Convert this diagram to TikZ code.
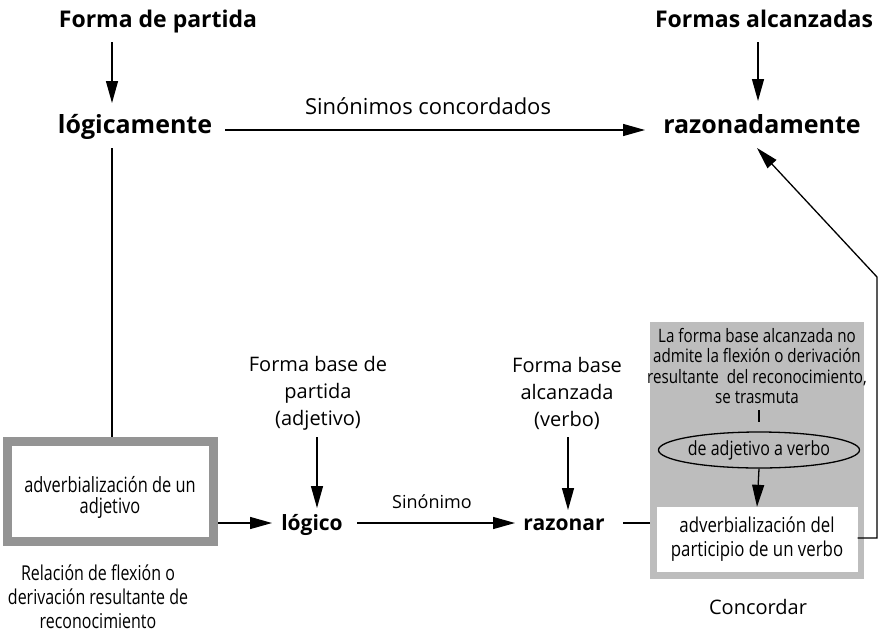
\documentclass[tikz,border=0pt]{standalone}
\usepackage{fontspec}
\setmainfont{Open Sans}
\newfontfamily\condfont[FakeStretch=0.78]{Open Sans}
\newfontfamily\graycondfont[FakeStretch=0.82]{Open Sans}
\usetikzlibrary{arrows.meta,shapes.geometric}
\definecolor{dither}{gray}{0.74}
\definecolor{frame}{gray}{0.58}
\begin{document}
\begin{tikzpicture}[x=1pt,y=-1pt,
  arr/.style={line width=1.3pt,-{Triangle[length=22pt,width=12pt]}},
  plain/.style={line width=1.3pt},
  bigbold/.style={font=\fontsize{25}{30}\selectfont\bfseries,inner sep=0pt,anchor=base},
  titlebold/.style={font=\fontsize{23}{28}\selectfont\bfseries,inner sep=0pt,anchor=base},
  midbold/.style={font=\fontsize{21}{24}\selectfont\bfseries,inner sep=0pt,anchor=base},
  label/.style={font=\fontsize{20}{27}\selectfont,inner sep=0pt,align=center},
  cond/.style={font=\condfont\fontsize{21}{20}\selectfont,inner sep=0pt,align=center},
  graytxt/.style={font=\graycondfont\fontsize{18.5}{20.5}\selectfont,inner sep=0pt,align=center}
]
\useasboundingbox (0,0) rectangle (880,635);

% top row
\node[titlebold] (fp) at (158,27) {Forma de partida};
\node[titlebold] (fa) at (764,27) {Formas alcanzadas};
\node[bigbold] (log) at (135,133) {lógicamente};
\node[bigbold] (raz) at (762,133) {razonadamente};
\node[font=\fontsize{22}{26}\selectfont,inner sep=0pt,anchor=base] (sc) at (428,114) {Sinónimos concordados};

\coordinate (fpS) at (112,42);  \coordinate (logN) at (112,103);
\coordinate (faS) at (758,42);  \coordinate (razN) at (758,101);
\coordinate (logE) at (225,130); \coordinate (razW) at (645,130);
\draw[arr] (fpS) -- (logN);
\draw[arr] (faS) -- (razN);
\draw[arr] (logE) -- (razW);

% left box
\fill[frame] (3,437) rectangle (218,546);
\fill[white] (12,446) rectangle (209,537);
\node[cond,font=\condfont\fontsize{21}{21}\selectfont] (adj) at (110,497) {adverbialización de un\\adjetivo};
\coordinate (logS) at (112,148); \coordinate (boxN) at (112,437);
\draw[plain] (logS) -- (boxN);

\node[cond,font=\condfont\fontsize{20.5}{24}\selectfont] (rel) at (98,597) {Relación de flexión o\\derivación resultante de\\reconocimiento};

% middle
\node[label] (fbp) at (318,393) {Forma base de\\partida\\(adjetivo)};
\node[label] (fba) at (567,393) {Forma base\\alcanzada\\(verbo)};
\node[midbold] (lgc) at (312,530) {lógico};
\node[midbold] (rzn) at (564,530) {razonar};
\node[font=\fontsize{18}{22}\selectfont,inner sep=0pt,anchor=base] (sn) at (432,508) {Sinónimo};

\coordinate (fbpS) at (317,437); \coordinate (lgcN) at (317,508);
\coordinate (fbaS) at (568,437); \coordinate (rznN) at (568,510);
\draw[arr] (fbpS) -- (lgcN);
\draw[arr] (fbaS) -- (rznN);
\coordinate (boxE) at (218,523); \coordinate (lgcW) at (272,523);
\draw[arr] (boxE) -- (lgcW);
\coordinate (lgcE) at (357,523); \coordinate (rznW) at (515,523);
\draw[arr] (lgcE) -- (rznW);
\coordinate (rznE) at (623,523); \coordinate (grayW) at (657,523);
\draw[plain] (rznE) -- (grayW);

% gray box
\fill[dither] (650,322) rectangle (864,579);
\node[graytxt] (gt) at (757,366) {La forma base alcanzada no\\admite la flexión o derivación\\resultante\ \ del reconocimiento,\\se trasmuta};
\coordinate (tickA) at (759,410); \coordinate (tickB) at (759,422);
\draw[line width=1.2pt] (tickA) -- (tickB);
\node[draw,line width=1.3pt,ellipse,minimum width=185pt,minimum height=36pt,inner sep=0pt,
      font=\graycondfont\fontsize{19.5}{22}\selectfont] (ell) at (759,450) {de adjetivo a verbo};
\node[fill=white,minimum width=201pt,minimum height=65pt,inner sep=0pt,align=center,
      font=\graycondfont\fontsize{20.5}{24}\selectfont] (wb) at (757,539.5) {adverbialización del\\participio de un verbo};
\draw[arr] (ell.south) -- (wb.north);
\coordinate (c1) at (877,538); \coordinate (c2) at (877,277); \coordinate (razS) at (757,148);
\draw[arr] (wb.east |- c1) -- (c1) -- (c2) -- (razS);

\node[label] (conc) at (758,607) {Concordar};
\end{tikzpicture}
\end{document}
